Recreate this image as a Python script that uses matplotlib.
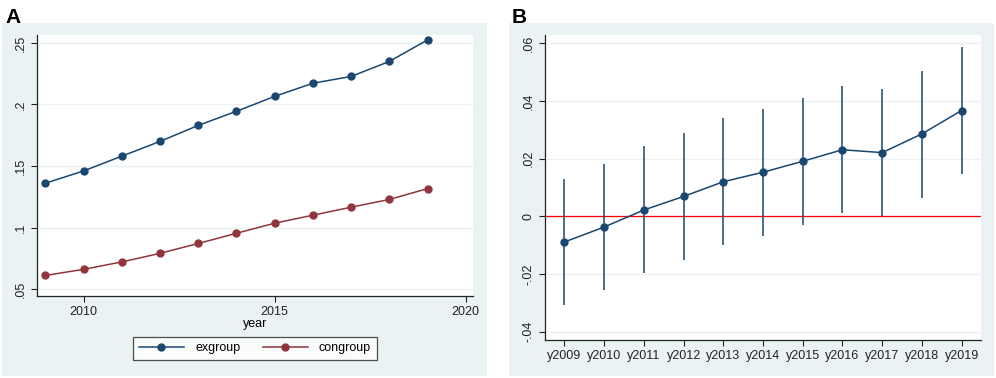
import numpy as np
import matplotlib.pyplot as plt
from matplotlib.patches import Rectangle

plt.rcParams['font.family'] = ['Liberation Sans', 'DejaVu Sans']

# panel A data
years = [2009, 2010, 2011, 2012, 2013, 2014, 2015, 2016, 2017, 2018, 2019]
exgroup = [0.136, 0.146, 0.158, 0.170, 0.183, 0.1945, 0.2066, 0.2173, 0.2228, 0.235, 0.2525]
congroup = [0.061, 0.066, 0.072, 0.079, 0.087, 0.0953, 0.1035, 0.110, 0.1165, 0.1228, 0.1316]

# panel B data
cats = ['y2009', 'y2010', 'y2011', 'y2012', 'y2013', 'y2014', 'y2015', 'y2016', 'y2017', 'y2018', 'y2019']
coef = [-0.0089, -0.0037, 0.0022, 0.0069, 0.0120, 0.0153, 0.0191, 0.0231, 0.0221, 0.0286, 0.0367]
ci_hi = [0.0128, 0.0183, 0.0243, 0.0289, 0.0340, 0.0372, 0.0409, 0.0451, 0.0441, 0.0504, 0.0586]
ci_lo = [-0.0309, -0.0257, -0.0197, -0.0150, -0.0100, -0.0067, -0.0029, 0.0013, 0.0001, 0.0065, 0.0148]

navy = '#1a476f'
maroon = '#90353b'
bg = '#eaf2f3'

fig = plt.figure(figsize=(9.96, 3.78), dpi=100)
fig.patches.append(Rectangle((0.002, 0.0053), 0.487, 0.934, transform=fig.transFigure,
                             facecolor=bg, edgecolor='none', zorder=-1))
fig.patches.append(Rectangle((0.511, 0.0053), 0.487, 0.934, transform=fig.transFigure,
                             facecolor=bg, edgecolor='none', zorder=-1))
fig.text(0.006, 0.955, 'A', fontsize=15, fontweight='bold', va='center')
fig.text(0.514, 0.955, 'B', fontsize=15, fontweight='bold', va='center')


def style(ax):
    ax.set_facecolor('white')
    for s in ['top', 'right']:
        ax.spines[s].set_visible(False)
    for s in ['left', 'bottom']:
        ax.spines[s].set_color('#222222')
        ax.spines[s].set_linewidth(0.9)
    ax.tick_params(direction='out', length=4, width=0.8, labelsize=9, colors='#222222')
    ax.grid(axis='y', color=bg, linewidth=1.0)
    ax.set_axisbelow(True)
    for lab in ax.get_yticklabels():
        lab.set_rotation(90)
        lab.set_va('center')


# A
ax1 = fig.add_axes([0.0375, 0.2169, 0.4378, 0.6905])
ax1.plot(years, exgroup, color=navy, marker='o', markersize=5, linewidth=1.1, label='exgroup')
ax1.plot(years, congroup, color=maroon, marker='o', markersize=5, linewidth=1.1, label='congroup')
ax1.set_xlim(2008.79, 2020.2)
ax1.set_ylim(0.0443, 0.2565)
ax1.set_xticks([2010, 2015, 2020])
ax1.set_yticks([0.05, 0.1, 0.15, 0.2, 0.25])
ax1.set_yticklabels(['.05', '.1', '.15', '.2', '.25'])
ax1.set_xlabel('year', fontsize=9, labelpad=0)
style(ax1)
leg = ax1.legend(loc='upper center', bbox_to_anchor=(0.256, 0.109), bbox_transform=fig.transFigure,
                 ncol=2, frameon=True, fancybox=False, edgecolor='#222222', fontsize=9,
                 handlelength=3.6, handletextpad=0.9, columnspacing=1.8, borderpad=0.45,
                 borderaxespad=0)
leg.get_frame().set_linewidth(0.9)

# B
ax2 = fig.add_axes([0.5472, 0.1005, 0.4378, 0.8069])
x = np.arange(len(cats))
ax2.vlines(x, ci_lo, ci_hi, color=navy, linewidth=1.1)
ax2.plot(x, coef, color=navy, marker='o', markersize=5, linewidth=1.1)
ax2.axhline(0, color='#ff0000', linewidth=0.9, zorder=1)
ax2.set_xlim(-0.49, 10.49)
ax2.set_ylim(-0.0429, 0.0629)
ax2.set_xticks(x)
ax2.set_xticklabels(cats)
ax2.set_yticks([-0.04, -0.02, 0, 0.02, 0.04, 0.06])
ax2.set_yticklabels(['-.04', '-.02', '0', '.02', '.04', '.06'])
style(ax2)

fig.savefig('out.png', dpi=100)
